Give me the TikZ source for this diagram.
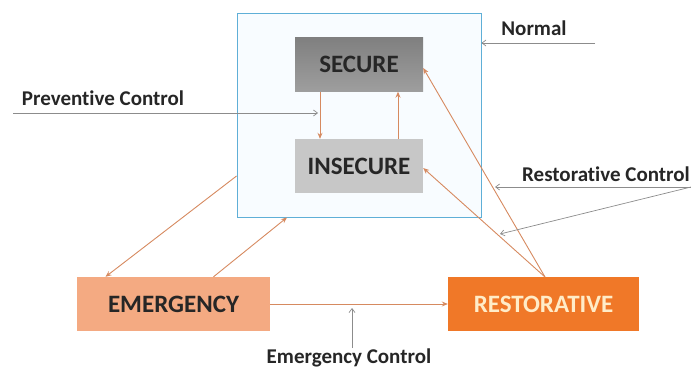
\documentclass[tikz,border=0pt]{standalone}
\usepackage{fontspec}
\setmainfont[Ligatures=NoCommon]{Carlito}
\usetikzlibrary{arrows.meta}

\definecolor{floworange}{RGB}{214,138,96}
\definecolor{ctrlgray}{RGB}{140,140,140}
\definecolor{framblue}{RGB}{95,175,215}
\definecolor{framfill}{RGB}{248,252,255}
\definecolor{emergfill}{RGB}{244,170,130}
\definecolor{restfill}{RGB}{240,120,40}
\definecolor{resttext}{RGB}{255,236,200}

\tikzset{
  statebox/.style={rectangle, minimum width=128pt, minimum height=54pt,
    font=\fontsize{25}{27}\selectfont\bfseries, text=black!85},
  modebox/.style={rectangle, minimum height=54pt,
    font=\fontsize{25}{27}\selectfont\bfseries},
  ctrllabel/.style={font=\fontsize{21}{23}\selectfont\bfseries, text=black!85},
  flow/.style={draw=floworange, line width=0.9pt, -{Stealth[length=6pt,width=5pt]}},
  ctrl/.style={draw=ctrlgray, line width=0.7pt, -{Straight Barb[length=4pt,width=6pt]}}
}

\begin{document}
\begin{tikzpicture}[x=1pt,y=-1pt]
  \useasboundingbox (0,0) rectangle (691,369);

  % Normal state frame
  \node[draw=framblue, line width=0.9pt, fill=framfill, minimum width=244pt,
    minimum height=204pt] (normal) at (359,115) {};
  \node[statebox, top color=black!50, bottom color=black!38] (secure) at (359,64.5) {SECURE};
  \node[statebox, fill=black!22] (insecure) at (359,166) {INSECURE};

  % lower states
  \node[modebox, fill=emergfill, minimum width=193pt, text=black!85] (emergency) at (173.5,304) {EMERGENCY};
  \node[modebox, fill=restfill, minimum width=191pt, text=resttext] (restorative) at (543.5,304) {RESTORATIVE};

  % labels
  \node[ctrllabel] (prevlbl) at (103,98) {Preventive Control};
  \node[ctrllabel] (normlbl) at (534,28) {Normal};
  \node[ctrllabel] (restlbl) at (606,174) {Restorative Control};
  \node[ctrllabel] (emerglbl) at (349,358) {Emergency Control};

  % state transitions
  \draw[flow] ([xshift=-39pt]secure.south) -- ([xshift=-39pt]insecure.north);
  \draw[flow] ([xshift=39pt]insecure.north) -- ([xshift=39pt]secure.south);
  \draw[flow] (normal.west |- 0,176) -- ([xshift=-68pt]emergency.north);
  \draw[flow] ([xshift=40pt]emergency.north) -- ([xshift=-72pt]normal.south);
  \draw[flow] (emergency) -- (restorative);
  \coordinate (restapex) at (545,277);
  \draw[flow] (restapex) -- (secure.east |- 0,68);
  \draw[flow] (restapex) -- (insecure.east |- 0,168);

  % control actions
  \coordinate (prevstart) at (13,113);
  \coordinate (prevend) at (318,113);
  \draw[ctrl] (prevstart) -- (prevend);
  \coordinate (normstart) at (595,43);
  \draw[ctrl] (normstart) -- (normal.east |- normstart);
  \coordinate (reststart) at (691,187);
  \coordinate (restendA) at (495,187);
  \coordinate (restendB) at (500,234);
  \draw[ctrl] (reststart) -- (restendA);
  \draw[ctrl] (reststart) -- (restendB);
  \coordinate (emergstart) at (352,348);
  \draw[ctrl] (emergstart) -- (352,308);
\end{tikzpicture}
\end{document}
